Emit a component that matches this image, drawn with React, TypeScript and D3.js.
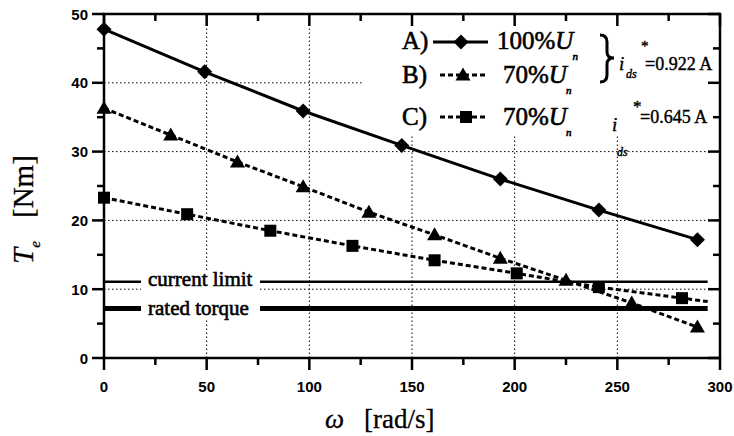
import React from "react";
import * as d3 from "d3";

// values
const omegaA = [0, 49, 97, 145, 193, 241, 289];
const torqueA = [47.8, 41.6, 35.9, 30.9, 26.0, 21.5, 17.2];

const omegaB = [0, 32.5, 65, 97, 129, 161, 193, 225, 257, 289];
const torqueB = [36.3, 32.4, 28.5, 24.9, 21.2, 17.9, 14.5, 11.3, 8.0, 4.5];

const omegaC = [0, 40.5, 81, 121, 161, 201, 241, 281.5, 294];
const torqueC = [23.3, 20.9, 18.5, 16.3, 14.2, 12.3, 10.3, 8.7, 8.2];
const markerC = [true, true, true, true, true, true, true, true, false];

const limitOmega = [0, 294];
const currentLimit = 11.1;
const ratedTorque = 7.2;

const xTicks = [0, 50, 100, 150, 200, 250, 300];
const yTicks = [0, 10, 20, 30, 40, 50];

const W = 734;
const H = 436;
const margin = { top: 14, right: 14, bottom: 78, left: 104 };

const serif = "Liberation Serif";
const sans = "Liberation Sans";

const x = d3.scaleLinear().domain([0, 300]).range([margin.left, W - margin.right]);
const y = d3.scaleLinear().domain([0, 50]).range([H - margin.bottom, margin.top]);

const line = d3
  .line<[number, number]>()
  .x((d) => x(d[0]))
  .y((d) => y(d[1]));

const zip = (a: number[], b: number[]) => a.map((v, i) => [v, b[i]] as [number, number]);

function Diamond({ cx, cy }: { cx: number; cy: number }) {
  return <path d={`M${cx},${cy - 7.5}L${cx + 7.5},${cy}L${cx},${cy + 7.5}L${cx - 7.5},${cy}Z`} fill="#000" stroke="none" />;
}
function Triangle({ cx, cy }: { cx: number; cy: number }) {
  return <path d={`M${cx},${cy - 7.5}L${cx + 7.5},${cy + 5.5}L${cx - 7.5},${cy + 5.5}Z`} fill="#000" stroke="none" />;
}
function Square({ cx, cy }: { cx: number; cy: number }) {
  return <rect x={cx - 6} y={cy - 6} width={12} height={12} fill="#000" stroke="none" />;
}

export default function App() {
  const x0 = x.range()[0];
  const x1 = x.range()[1];
  const y0 = y.range()[0];
  const y1 = y.range()[1];

  const xMinor = d3.range(25, 300, 50);
  const yMinor = d3.range(5, 50, 10);

  const dataA = zip(omegaA, torqueA);
  const dataB = zip(omegaB, torqueB);
  const dataC = zip(omegaC, torqueC);

  // heavy serif look of the original bitmap
  const heavy = { fill: "#000", stroke: "#000", strokeWidth: 0.6 };

  return (
    <div style={{ position: "absolute", left: 0, top: 0 }}>
      <svg width={W} height={H} style={{ display: "block", background: "#fff" }}>
        {/* grid */}
        <g stroke="#000" strokeWidth={1} strokeDasharray="1.5,2.5">
          {xTicks.slice(1, -1).map((t) => (
            <line key={"gx" + t} x1={x(t)} x2={x(t)} y1={y0} y2={y1} />
          ))}
          {yTicks.slice(1, -1).map((t) => (
            <line key={"gy" + t} x1={x0} x2={x1} y1={y(t)} y2={y(t)} />
          ))}
        </g>

        {/* legend background */}
        <rect x={363} y={y1 + 2} width={x1 - 363 - 2} height={119} fill="#fff" />

        {/* limit lines */}
        <line x1={x(limitOmega[0])} x2={x(limitOmega[1])} y1={y(currentLimit)} y2={y(currentLimit)} stroke="#000" strokeWidth={2.5} />
        <line x1={x(limitOmega[0])} x2={x(limitOmega[1])} y1={y(ratedTorque)} y2={y(ratedTorque)} stroke="#000" strokeWidth={5} />
        <rect x={141} y={272} width={119} height={48} fill="#fff" />
        <text x={148} y={286} fontSize={21} style={{ fontFamily: serif }} {...heavy}>current limit</text>
        <text x={148} y={315} fontSize={21} style={{ fontFamily: serif }} {...heavy}>rated torque</text>

        {/* series */}
        <path d={line(dataA) || ""} fill="none" stroke="#000" strokeWidth={3} />
        <path d={line(dataB) || ""} fill="none" stroke="#000" strokeWidth={3} strokeDasharray="5,3" />
        <path d={line(dataC) || ""} fill="none" stroke="#000" strokeWidth={3} strokeDasharray="5,3" />
        {dataA.map((d, i) => (
          <Diamond key={"a" + i} cx={x(d[0])} cy={y(d[1])} />
        ))}
        {dataB.map((d, i) => (
          <Triangle key={"b" + i} cx={x(d[0])} cy={y(d[1])} />
        ))}
        {dataC.map((d, i) =>
          markerC[i] ? <Square key={"c" + i} cx={x(d[0])} cy={y(d[1])} /> : null
        )}

        {/* frame and ticks */}
        <rect x={x0} y={y1} width={x1 - x0} height={y0 - y1} fill="none" stroke="#000" strokeWidth={2.5} />
        <g stroke="#000" strokeWidth={2.5}>
          {xTicks.map((t) => (
            <g key={"tx" + t}>
              <line x1={x(t)} x2={x(t)} y1={y0} y2={y0 + 12} />
              <line x1={x(t)} x2={x(t)} y1={y1} y2={y1 + 12} />
            </g>
          ))}
          {xMinor.map((t) => (
            <g key={"mx" + t}>
              <line x1={x(t)} x2={x(t)} y1={y0} y2={y0 + 7} />
              <line x1={x(t)} x2={x(t)} y1={y1} y2={y1 + 7} />
            </g>
          ))}
          {yTicks.map((t) => (
            <g key={"ty" + t}>
              <line x1={x0} x2={x0 - 12} y1={y(t)} y2={y(t)} />
              <line x1={x1} x2={x1 - 12} y1={y(t)} y2={y(t)} />
            </g>
          ))}
          {yMinor.map((t) => (
            <g key={"my" + t}>
              <line x1={x0} x2={x0 - 7} y1={y(t)} y2={y(t)} />
              <line x1={x1} x2={x1 - 7} y1={y(t)} y2={y(t)} />
            </g>
          ))}
        </g>

        {/* tick labels */}
        <g style={{ fontFamily: sans }} fontSize={15} fontWeight="bold" fill="#000">
          {xTicks.map((t) => (
            <text key={"lx" + t} x={x(t)} y={y0 + 34} textAnchor="middle">{t}</text>
          ))}
          {yTicks.map((t) => (
            <text key={"ly" + t} x={x0 - 16} y={y(t) + 5.5} textAnchor="end">{t}</text>
          ))}
        </g>

        {/* axis titles */}
        <text x={325} y={428} fontSize={27} style={{ fontFamily: serif }} {...heavy} strokeWidth={0.3}>
          <tspan fontStyle="italic">ω</tspan>
          <tspan x={364}>[rad/s]</tspan>
        </text>
        <g transform="translate(33,264) rotate(-90)">
          <text x={0} y={0} fontSize={29} style={{ fontFamily: serif }} {...heavy} strokeWidth={0.3}>
            <tspan fontStyle="italic">T</tspan>
            <tspan fontStyle="italic" fontSize={15} dy={7}>e</tspan>
            <tspan x={46} dy={-7}>[Nm]</tspan>
          </text>
        </g>

        {/* legend */}
        <g fontSize={25} style={{ fontFamily: serif }} {...heavy}>
          <text x={402} y={49}>A)</text>
          <text x={497} y={49}>
            100%<tspan fontStyle="italic">U</tspan>
            <tspan fontStyle="italic" fontSize={11} dy={11} dx={-1}>n</tspan>
          </text>

          <text x={402} y={83}>B)</text>
          <text x={503} y={83}>
            70%<tspan fontStyle="italic">U</tspan>
            <tspan fontStyle="italic" fontSize={11} dy={11} dx={-1}>n</tspan>
          </text>

          <text x={402} y={125}>C)</text>
          <text x={503} y={125}>
            70%<tspan fontStyle="italic">U</tspan>
            <tspan fontStyle="italic" fontSize={11} dy={11} dx={-1}>n</tspan>
          </text>
        </g>
        <line x1={433} x2={488} y1={42} y2={42} stroke="#000" strokeWidth={3} />
        <Diamond cx={461} cy={42} />
        <line x1={440} x2={488} y1={75} y2={75} stroke="#000" strokeWidth={3} strokeDasharray="5,3" />
        <Triangle cx={463} cy={75} />
        <line x1={440} x2={488} y1={117} y2={117} stroke="#000" strokeWidth={3} strokeDasharray="5,3" />
        <Square cx={466} cy={117} />

        {/* brace and current annotations */}
        <path
          d="M600,35 Q607,35 607,42 L607,52 Q607,58 614,58 Q607,58 607,64 L607,75 Q607,82 600,82"
          fill="none"
          stroke="#000"
          strokeWidth={3}
        />
        <g style={{ fontFamily: serif }} {...heavy} strokeWidth={0.4}>
          <text x={619} y={70} fontSize={19} fontStyle="italic">i</text>
          <text x={626} y={78} fontSize={12} fontStyle="italic">ds</text>
          <text x={641} y={51} fontSize={15}>*</text>
          <text x={645} y={70} fontSize={18}>=0.922 A</text>

          <text x={612} y={131} fontSize={19} fontStyle="italic">i</text>
          <text x={617} y={156} fontSize={12} fontStyle="italic">ds</text>
          <text x={633} y={112} fontSize={17}>*</text>
          <text x={640} y={123} fontSize={18}>=0.645 A</text>
        </g>
      </svg>
    </div>
  );
}
